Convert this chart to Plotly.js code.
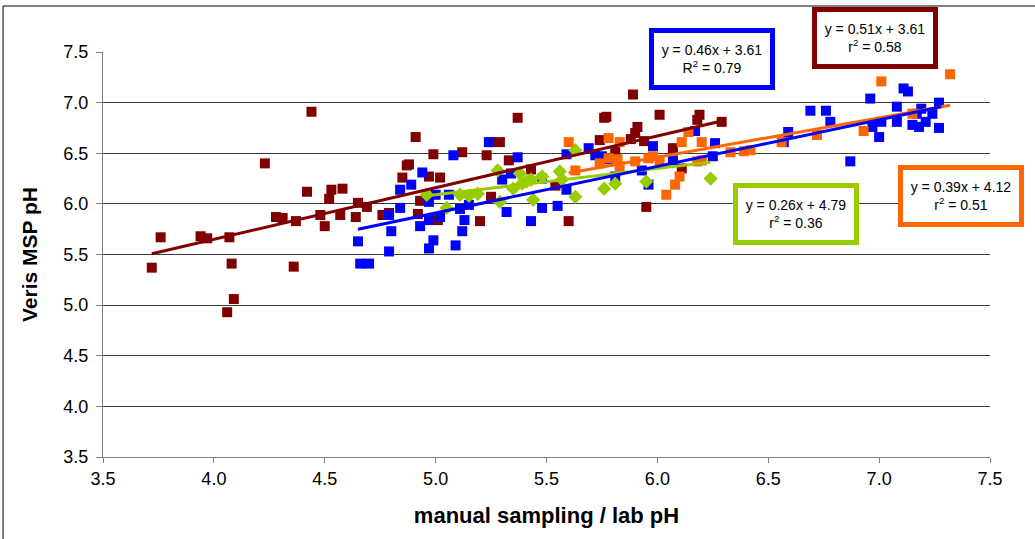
<!DOCTYPE html>
<html><head><meta charset="utf-8">
<script src="https://cdn.plot.ly/plotly-3.0.1.min.js"></script>
<style>html,body{margin:0;padding:0;background:#fff}#chart{width:1035px;height:539px}</style>
</head><body><div id="chart"></div>
<script>
// Series data (manual/lab pH vs Veris MSP pH)
const darkRedX = [3.72,3.76,3.94,3.97,4.07,4.08,4.09,4.06,4.23,4.28,4.31,4.37,4.36,4.42,4.44,4.48,4.50,4.53,4.52,4.58,4.57,4.64,4.65,4.69,4.76,4.79,4.85,4.87,4.88,4.91,4.99,4.97,4.93,4.92,5.02,5.37,5.25,5.29,5.12,5.23,5.33,5.43,5.25,5.20,5.01,5.60,5.54,5.89,5.76,5.77,6.01,5.91,5.90,5.88,5.94,5.74,5.81,6.07,6.18,6.19,5.95,6.11,6.29];
const darkRedY = [5.37,5.67,5.68,5.66,5.67,5.41,5.06,4.93,6.40,5.87,5.86,5.83,5.38,6.12,6.91,5.89,5.78,6.14,6.05,6.15,5.89,5.87,6.01,5.97,5.89,5.91,6.26,6.38,6.39,6.66,6.49,6.27,6.03,5.90,6.26,6.85,6.61,6.61,6.51,6.48,6.43,6.34,6.07,5.83,5.84,5.83,6.18,7.08,6.85,6.86,6.88,6.76,6.70,6.64,6.62,6.63,6.52,6.55,6.83,6.88,5.97,6.35,6.81];

const blueX = [4.65,4.66,4.70,4.79,4.80,4.79,4.84,4.84,4.89,4.94,4.93,4.97,4.97,4.99,4.97,5.24,5.08,5.37,5.34,5.30,5.48,5.59,5.59,5.00,5.06,5.15,5.11,5.02,5.13,5.32,5.48,5.55,5.43,5.12,5.09,5.69,5.72,5.75,5.78,5.98,5.81,5.93,5.96,6.07,6.17,6.26,6.25,6.57,6.59,6.69,6.76,6.78,6.87,7.11,7.13,6.96,7.08,6.97,7.01,7.00,7.08,7.15,7.18,7.19,7.21,7.24,7.27,7.27,7.17];
const blueY = [5.63,5.41,5.41,5.53,5.73,5.89,5.96,6.14,6.19,6.31,5.78,6.02,5.84,5.64,5.56,6.61,6.48,6.46,6.30,6.24,6.25,6.49,6.14,6.09,6.09,5.99,5.95,5.87,5.84,5.92,5.96,5.98,5.83,5.73,5.59,6.55,6.48,6.47,6.44,6.57,6.27,6.33,6.19,6.43,6.72,6.60,6.47,6.61,6.71,6.92,6.92,6.81,6.42,7.14,7.11,7.04,6.96,6.76,6.81,6.66,6.81,6.78,6.76,6.94,6.81,6.89,7.00,6.75,6.89];

const orangeX = [5.60,5.63,5.78,5.83,5.74,5.82,5.83,5.90,5.98,6.01,6.11,6.14,6.10,6.08,6.04,6.18,6.20,6.20,6.33,6.39,6.42,6.56,6.72,7.01,7.32,6.93,7.15,5.78,5.96];
const orangeY = [6.61,6.33,6.65,6.61,6.40,6.44,6.37,6.42,6.47,6.43,6.61,6.71,6.27,6.19,6.09,6.42,6.61,6.43,6.51,6.52,6.53,6.61,6.68,7.21,7.28,6.72,6.89,6.45,6.45];

const greenX = [4.96,5.05,5.11,5.15,5.19,5.28,5.29,5.35,5.38,5.43,5.48,5.44,5.56,5.63,5.63,5.76,5.81,5.95,5.57,6.24,5.39,5.41];
const greenY = [6.09,5.96,6.09,6.08,6.10,6.33,6.02,6.15,6.30,6.24,6.27,6.04,6.32,6.53,6.07,6.15,6.20,6.22,6.24,6.25,6.20,6.22];

// Linear trendlines: slope, intercept, x extent
const darkRedFit = {m: 0.51, b: 3.61, x: [3.72, 6.29]};
const blueFit    = {m: 0.46, b: 3.61, x: [4.65, 7.28]};
const orangeFit  = {m: 0.39, b: 4.12, x: [5.60, 7.32]};
const greenFit   = {m: 0.26, b: 4.79, x: [4.96, 6.24]};

const xTicks = [3.5,4.0,4.5,5.0,5.5,6.0,6.5,7.0,7.5];
const yTicks = [3.5,4.0,4.5,5.0,5.5,6.0,6.5,7.0,7.5];

const C = {darkRed:'#800000', blue:'#0000FF', orange:'#FF6600', green:'#99CC00'};

function pts(x,y,color,symbol,size){
  return {x:x,y:y,type:'scatter',mode:'markers',showlegend:false,hoverinfo:'skip',
    marker:{color:color,symbol:symbol,size:size,line:{width:0}}};
}
function fit(f,color){
  return {x:f.x,y:f.x.map(v=>f.m*v+f.b),type:'scatter',mode:'lines',showlegend:false,hoverinfo:'skip',
    line:{color:color,width:3}};
}

const data = [
  pts(darkRedX,darkRedY,C.darkRed,'square',10),
  pts(blueX,blueY,C.blue,'square',10),
  pts(greenX,greenY,C.green,'diamond',11),
  pts(orangeX,orangeY,C.orange,'square',10),
  fit(darkRedFit,C.darkRed),
  fit(greenFit,C.green),
  fit(orangeFit,C.orange),
  fit(blueFit,C.blue)
];

function box(text,x,y,color,ref){
  return {text:text,x:x,y:y,xref:ref||'x',yref:ref||'y',showarrow:false,
    xanchor:'center',yanchor:'middle',
    font:{family:'Liberation Sans, Arial, sans-serif',size:14,color:'#000'},
    bgcolor:'#fff',bordercolor:color,borderwidth:5,borderpad:4,width:108,height:44,align:'center'};
}

const layout = {
  width:1035,height:539,
  margin:{l:103,r:45,t:52,b:82},
  paper_bgcolor:'#fff',plot_bgcolor:'#fff',
  font:{family:'Liberation Sans, Arial, sans-serif',color:'#000'},
  xaxis:{range:[3.5,7.5],tickvals:xTicks,ticktext:xTicks.map(v=>v.toFixed(1)),
    showgrid:false,zeroline:false,showline:true,linecolor:'#808080',linewidth:1,
    ticks:'outside',ticklen:5,tickcolor:'#808080',tickfont:{size:18},ticklabelstandoff:0,
    title:{text:'<b>manual sampling / lab pH</b>',font:{size:22},standoff:20}},
  yaxis:{range:[3.5,7.5],tickvals:yTicks,ticktext:yTicks.map(v=>v.toFixed(1)),
    showgrid:true,gridcolor:'#3a3a3a',gridwidth:1,zeroline:false,showline:true,linecolor:'#808080',linewidth:1,
    ticks:'outside',ticklen:6,tickcolor:'#808080',tickfont:{size:18},ticklabelstandoff:4,
    title:{text:'<b>Veris MSP pH</b>',font:{size:21},standoff:20}},
  annotations:[
    box('y = 0.46x + 3.61<br>R<sup>2</sup> = 0.79',6.246,7.43,C.blue),
    box('y = 0.51x + 3.61<br>r<sup>2</sup> = 0.58',0.870,1.0345,C.darkRed,'paper'),
    box('y = 0.39x + 4.12<br>r<sup>2</sup> = 0.51',7.37,6.08,C.orange),
    box('y = 0.26x + 4.79<br>r<sup>2</sup> = 0.36',6.625,5.90,C.green)
  ],
  shapes:[
    {type:'line',xref:'paper',yref:'paper',x0:-0.1127,x1:1.06,y0:1.1136,y1:1.1136,line:{color:'#000',width:1}},
    {type:'line',xref:'paper',yref:'paper',x0:-0.1127,x1:-0.1127,y0:1.1136,y1:-0.25,line:{color:'#000',width:1}}
  ]
};

Plotly.newPlot('chart',data,layout,{staticPlot:true,displayModeBar:false});
</script></body></html>
